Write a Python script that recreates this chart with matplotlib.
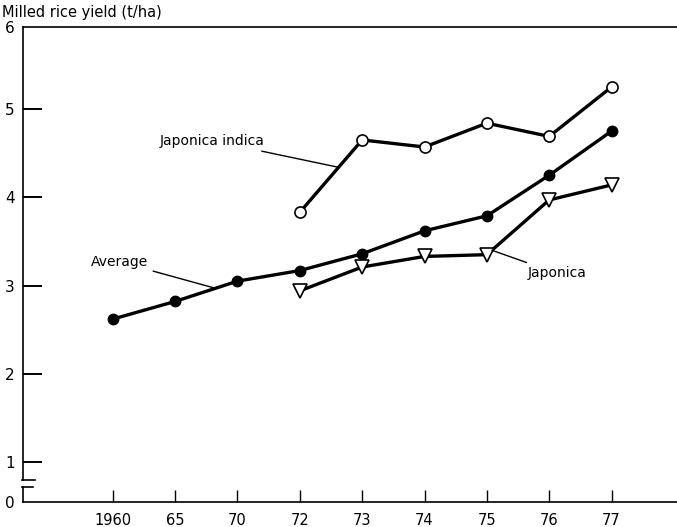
import matplotlib.pyplot as plt

# data
years = ['1960', '65', '70', '72', '73', '74', '75', '76', '77']
average = [2.62, 2.82, 3.05, 3.17, 3.36, 3.62, 3.79, 4.25, 4.75]
jap_indica_years = ['72', '73', '74', '75', '76', '77']
jap_indica = [3.83, 4.65, 4.57, 4.84, 4.69, 5.25]
japonica_years = ['72', '73', '74', '75', '76', '77']
japonica = [2.94, 3.21, 3.33, 3.35, 3.97, 4.14]

y_ticks = [1, 2, 3, 4, 5]
zero_pos = 0.547  # where "0" sits below the axis break
top_pos = 5.93    # the hand-drawn "6" sits on the top frame line

plt.rcParams['font.family'] = 'DejaVu Sans'

fig = plt.figure(figsize=(6.77, 5.27), dpi=100)
ax = fig.add_axes([0.034, 0.0474, 0.966, 0.9014])

idx = {y: i for i, y in enumerate(years)}
x_avg = [idx[y] for y in years]
x_ji = [idx[y] for y in jap_indica_years]
x_j = [idx[y] for y in japonica_years]

ax.plot(x_avg, average, color='black', lw=2.4, marker='o', ms=7.5,
        mfc='black', mec='black', zorder=3)
ax.plot(x_ji, jap_indica, color='black', lw=2.4, marker='o', ms=8,
        mfc='white', mec='black', mew=1.2, zorder=3)
ax.plot(x_j, japonica, color='black', lw=2.4, marker='v', ms=10,
        mfc='white', mec='black', mew=1.2, zorder=3)

ax.set_xlim(-1.44, 9.05)
ax.set_ylim(zero_pos, top_pos)

ax.set_xticks(range(len(years)))
ax.set_xticklabels(years)
ax.set_yticks([zero_pos] + y_ticks + [top_pos])
ax.set_yticklabels(['0'] + [str(t) for t in y_ticks] + ['6'])
ax.tick_params(axis='x', direction='in', length=9, width=1, pad=8, labelsize=10.5)
ax.tick_params(axis='y', direction='in', length=14, width=1.4, pad=6, labelsize=11)
ax.yaxis.get_major_ticks()[0].tick1line.set_visible(False)
ax.yaxis.get_major_ticks()[-1].tick1line.set_visible(False)

ax.spines['right'].set_visible(False)
ax.spines['left'].set_visible(False)
ax.spines['top'].set_linewidth(1.2)
ax.spines['bottom'].set_linewidth(1.2)

# broken left axis
tr = ax.get_yaxis_transform()
brk_lo, brk_hi = 0.713, 0.793
ax.plot([0, 0], [zero_pos, brk_lo], transform=tr, color='black', lw=1.2, clip_on=False)
ax.plot([0, 0], [brk_hi, top_pos], transform=tr, color='black', lw=1.2, clip_on=False)
ax.plot([-0.002, 0.016], [brk_lo, brk_lo], transform=tr, color='black', lw=1.2, clip_on=False)
ax.plot([-0.002, 0.018], [brk_hi, brk_hi], transform=tr, color='black', lw=1.2, clip_on=False)

# labels with leader lines
line_kw = dict(arrowstyle='-', color='black', lw=1.0, shrinkA=2, shrinkB=0)
ax.annotate('Japonica indica', xy=(3.62, 4.34), xytext=(2.44, 4.64),
            ha='right', va='center', fontsize=10, arrowprops=line_kw)
ax.annotate('Average', xy=(1.64, 2.97), xytext=(0.56, 3.27),
            ha='right', va='center', fontsize=10, arrowprops=line_kw)
ax.annotate('Japonica', xy=(6.08, 3.40), xytext=(6.65, 3.14),
            ha='left', va='center', fontsize=10, arrowprops=line_kw)

fig.text(0.003, 1 - 12 / 527, 'Milled rice yield (t/ha)', ha='left', va='center',
         fontsize=10.5)

fig.savefig('out.png', dpi=100)
